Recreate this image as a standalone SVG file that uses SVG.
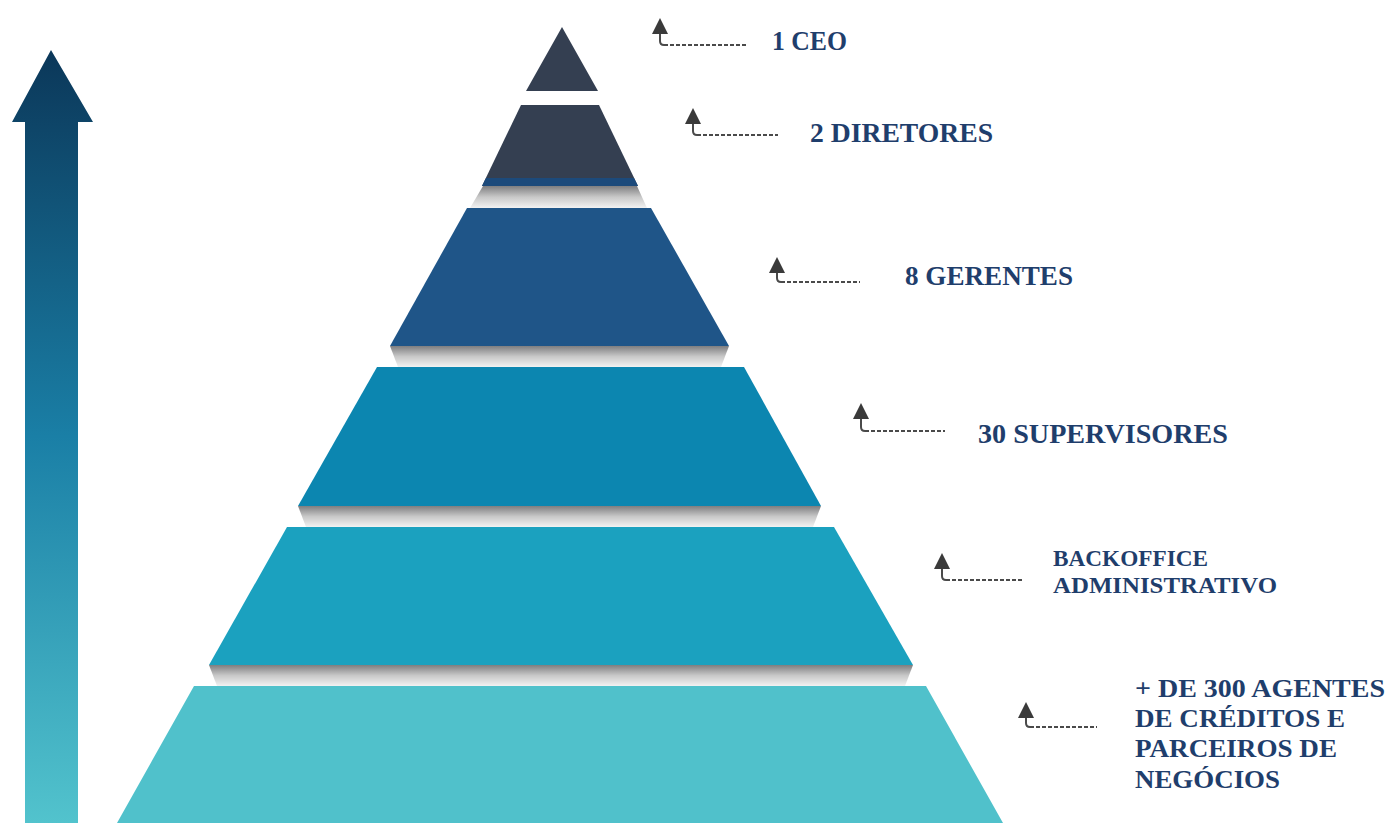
<svg xmlns="http://www.w3.org/2000/svg" width="1391" height="828" viewBox="0 0 1391 828">
<style>
.lbl{font-family:"Liberation Serif","DejaVu Serif",serif;font-weight:bold;fill:#1f3e6c}
.big{font-size:27px}
.mid{font-size:24px}
.low{font-size:25.5px}
.vln{fill:none;stroke:#4a4a4a;stroke-width:2}
.dln{fill:none;stroke:#4a4a4a;stroke-width:2;stroke-dasharray:4 2}
.shd{fill:url(#shadow)}
</style>
<defs>
<linearGradient id="arrowGrad" x1="0" y1="50" x2="0" y2="823" gradientUnits="userSpaceOnUse">
<stop offset="0" stop-color="#0b3759"/>
<stop offset="0.5" stop-color="#1a7fa6"/>
<stop offset="1" stop-color="#52c3cd"/>
</linearGradient>
<linearGradient id="shadow" x1="0" y1="0" x2="0" y2="1">
<stop offset="0" stop-color="#7e7e80"/>
<stop offset="0.5" stop-color="#c8c8c8"/>
<stop offset="1" stop-color="#f2f2f2"/>
</linearGradient>
<marker id="ah" markerUnits="userSpaceOnUse" markerWidth="16" markerHeight="16" viewBox="0 0 16 16" refX="2" refY="8" orient="auto">
<path d="M0,0 L16,8 L0,16 z" fill="#3a3a3a"/>
</marker>
</defs>
<rect width="1391" height="828" fill="#ffffff"/>

<g id="growth-arrow">
<polygon points="51,50 93,122 78,122 78,823 25,823 25,122 12,122" fill="url(#arrowGrad)"/>
</g>

<g id="shadows">
<polygon class="shd" points="390,346 729,346 721,367 398,367"/>
<polygon class="shd" points="298,506 821,506 813,527 306,527"/>
<polygon class="shd" points="209,665 913,665 905,686 217,686"/>
<polygon class="shd" points="483,186 637,186 647,208 470,208"/>
</g>

<g id="tier-ceo">
<polygon points="562,27 598,91 526,91" fill="#343f51"/>
<text class="lbl big" x="772" y="50" textLength="75" lengthAdjust="spacingAndGlyphs">1 CEO</text>
</g>

<g id="tier-diretores">
<polygon points="521,105 599,105 638,186 482,186" fill="#343f51"/>
<polygon points="486,178 634,178 638,186 482,186" fill="#1c4a7b"/>
<text class="lbl big" x="810" y="142" textLength="183" lengthAdjust="spacingAndGlyphs">2 DIRETORES</text>
</g>

<g id="tier-gerentes">
<polygon points="467,208 651,208 729,346 390,346" fill="#1f5588"/>
<text class="lbl big" x="905" y="285" textLength="168" lengthAdjust="spacingAndGlyphs">8 GERENTES</text>
</g>

<g id="tier-supervisores">
<polygon points="377,367 744,367 821,506 298,506" fill="#0c86b0"/>
<text class="lbl big" x="978" y="443" textLength="250" lengthAdjust="spacingAndGlyphs">30 SUPERVISORES</text>
</g>

<g id="tier-backoffice">
<polygon points="287,527 834,527 913,665 209,665" fill="#1ba1bf"/>
<text class="lbl mid" x="1053" y="566" textLength="155" lengthAdjust="spacingAndGlyphs">BACKOFFICE</text>
<text class="lbl mid" x="1053" y="593" textLength="224" lengthAdjust="spacingAndGlyphs">ADMINISTRATIVO</text>
</g>

<g id="tier-agentes">
<polygon points="194,686 926,686 1003,823 117,823" fill="#50c1cb"/>
<text class="lbl low" x="1135" y="697" textLength="250" lengthAdjust="spacingAndGlyphs">+ DE 300 AGENTES</text>
<text class="lbl low" x="1135" y="727" textLength="210" lengthAdjust="spacingAndGlyphs">DE CRÉDITOS E</text>
<text class="lbl low" x="1135" y="757" textLength="202" lengthAdjust="spacingAndGlyphs">PARCEIROS DE</text>
<text class="lbl low" x="1135" y="788" textLength="145" lengthAdjust="spacingAndGlyphs">NEGÓCIOS</text>
</g>

<g id="connectors">
<path class="vln" d="M664,45 Q660,45 660,41 V32" marker-end="url(#ah)"/>
<path class="dln" d="M664,45 H747"/>
<path class="vln" d="M697,135 Q693,135 693,131 V122" marker-end="url(#ah)"/>
<path class="dln" d="M697,135 H778"/>
<path class="vln" d="M781,282 Q777,282 777,278 V271" marker-end="url(#ah)"/>
<path class="dln" d="M781,282 H860"/>
<path class="vln" d="M865,431 Q861,431 861,427 V417" marker-end="url(#ah)"/>
<path class="dln" d="M865,431 H945"/>
<path class="vln" d="M946,580 Q942,580 942,576 V567" marker-end="url(#ah)"/>
<path class="dln" d="M946,580 H1022"/>
<path class="vln" d="M1030,727 Q1026,727 1026,723 V716" marker-end="url(#ah)"/>
<path class="dln" d="M1030,727 H1097"/>
</g>
</svg>
